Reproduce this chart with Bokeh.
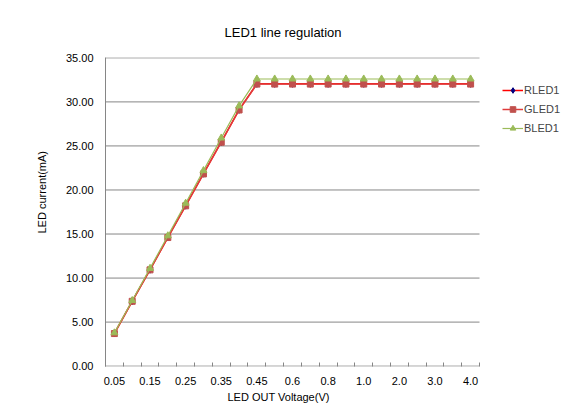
from bokeh.plotting import figure
from bokeh.models import Legend, LegendItem, FixedTicker, Range1d, Title
from bokeh.embed import file_html
from bokeh.resources import INLINE

voltages = ["0.05", "0.1", "0.15", "0.2", "0.25", "0.3", "0.35", "0.4", "0.45", "0.5",
            "0.6", "0.7", "0.8", "0.9", "1.0", "1.5", "2.0", "2.5", "3.0", "3.5", "4.0"]
rled1 = [3.72, 7.38, 10.95, 14.62, 18.22, 21.85, 25.45, 29.10, 32.05, 32.05,
         32.05, 32.05, 32.05, 32.05, 32.05, 32.05, 32.05, 32.05, 32.05, 32.05, 32.05]
gled1 = [3.70, 7.36, 10.93, 14.60, 18.20, 21.82, 25.42, 29.08, 32.02, 32.02,
         32.02, 32.02, 32.02, 32.02, 32.02, 32.02, 32.02, 32.02, 32.02, 32.02, 32.02]
bled1 = [3.78, 7.45, 11.10, 14.80, 18.50, 22.20, 25.90, 29.55, 32.60, 32.60,
         32.60, 32.60, 32.60, 32.60, 32.60, 32.60, 32.60, 32.60, 32.60, 32.60, 32.60]
y_ticks = [0, 5, 10, 15, 20, 25, 30, 35]

FONT = "Liberation Sans"
n = len(voltages)
xs = list(range(n))

# layout: plot area 374 px wide for the categories, frame extended right to hold the legend
W, H = 562, 409
LEFT, TOP, BOTTOM = 105, 57, 43
AREA_W = 374
frame_w = W - LEFT
x_end = -0.5 + frame_w * n / AREA_W

p = figure(width=W, height=H, output_backend="svg", toolbar_location=None,
           x_range=Range1d(-0.5, x_end), y_range=Range1d(-0.04, 35.04),
           min_border_left=LEFT, min_border_right=0, min_border_top=TOP, min_border_bottom=BOTTOM)
p.outline_line_color = None
p.background_fill_color = "white"
p.border_fill_color = "white"

p.title.text = "LED1 line regulation"
p.title.align = "left"
p.title.offset = 119
p.title.text_font = FONT
p.title.text_font_size = "13px"
p.title.text_font_style = "normal"
p.title.text_color = "#000000"
p.title.standoff = 35

# x axis
p.xaxis.ticker = FixedTicker(ticks=xs[::2], minor_ticks=[i - 0.5 for i in range(n + 1)])
p.xaxis.major_label_overrides = {i: voltages[i] for i in xs}
p.xaxis.major_tick_line_color = None
p.xaxis.minor_tick_in = 4
p.xaxis.minor_tick_out = 0
p.xaxis.minor_tick_line_color = "#868686"
p.xaxis.axis_line_color = None
p.xaxis.major_label_standoff = 4
p.xaxis.major_label_text_font = FONT
p.xaxis.major_label_text_font_size = "11px"
p.xaxis.major_label_text_color = "#000000"

xlabel = Title(text="LED OUT  Voltage(V)", align="left", offset=122,
               text_font=FONT, text_font_size="11px", text_font_style="normal",
               text_color="#000000", standoff=2)
p.add_layout(xlabel, "below")

# y axis
p.yaxis.ticker = FixedTicker(ticks=y_ticks, minor_ticks=[])
p.yaxis.major_label_overrides = {t: f"{t:.2f}" for t in y_ticks}
p.yaxis.major_tick_line_color = None
p.yaxis.minor_tick_line_color = None
p.yaxis.axis_line_color = "#868686"
p.yaxis.major_label_standoff = 6
p.yaxis.major_label_text_font = FONT
p.yaxis.major_label_text_font_size = "11px"
p.yaxis.major_label_text_color = "#000000"

ylabel = Title(text="LED current(mA)", align="left", offset=133,
               text_font=FONT, text_font_size="11px", text_font_style="normal",
               text_color="#000000", standoff=29)
p.add_layout(ylabel, "left")

p.xgrid.grid_line_color = None
p.ygrid.grid_line_color = None
# horizontal gridlines (and category axis line at 0) spanning only the category area
p.segment(x0=[-0.5] * len(y_ticks), x1=[n - 0.5] * len(y_ticks), y0=y_ticks, y1=y_ticks,
          line_color="#868686", line_width=1)

r_line = p.line(xs, rled1, line_color="#FF0000", line_width=1.5)
r_mark = p.scatter(xs, rled1, marker="diamond", size=7, fill_color="#000080", line_color="#000080")
g_line = p.line(xs, gled1, line_color="#E03C3C", line_width=1.5)
g_mark = p.scatter(xs, gled1, marker="square", size=6, fill_color="#C0504D", line_color="#C0504D")
b_line = p.line(xs, bled1, line_color="#9BBB59", line_width=1.2)
b_mark = p.scatter(xs, bled1, marker="triangle", size=7, fill_color="#9BBB59", line_color="#9BBB59")

legend = Legend(items=[
    LegendItem(label="RLED1", renderers=[r_line, r_mark]),
    LegendItem(label="GLED1", renderers=[g_line, g_mark]),
    LegendItem(label="BLED1", renderers=[b_line, b_mark]),
], location=(397, 231))
legend.padding = 2
legend.margin = 0
legend.background_fill_alpha = 0
legend.border_line_color = None
legend.label_text_font = FONT
legend.label_text_font_size = "11px"
legend.glyph_width = 21
legend.glyph_height = 14
legend.spacing = 5
legend.label_standoff = 1
p.add_layout(legend)

open("out.html", "w").write(file_html(p, INLINE))
